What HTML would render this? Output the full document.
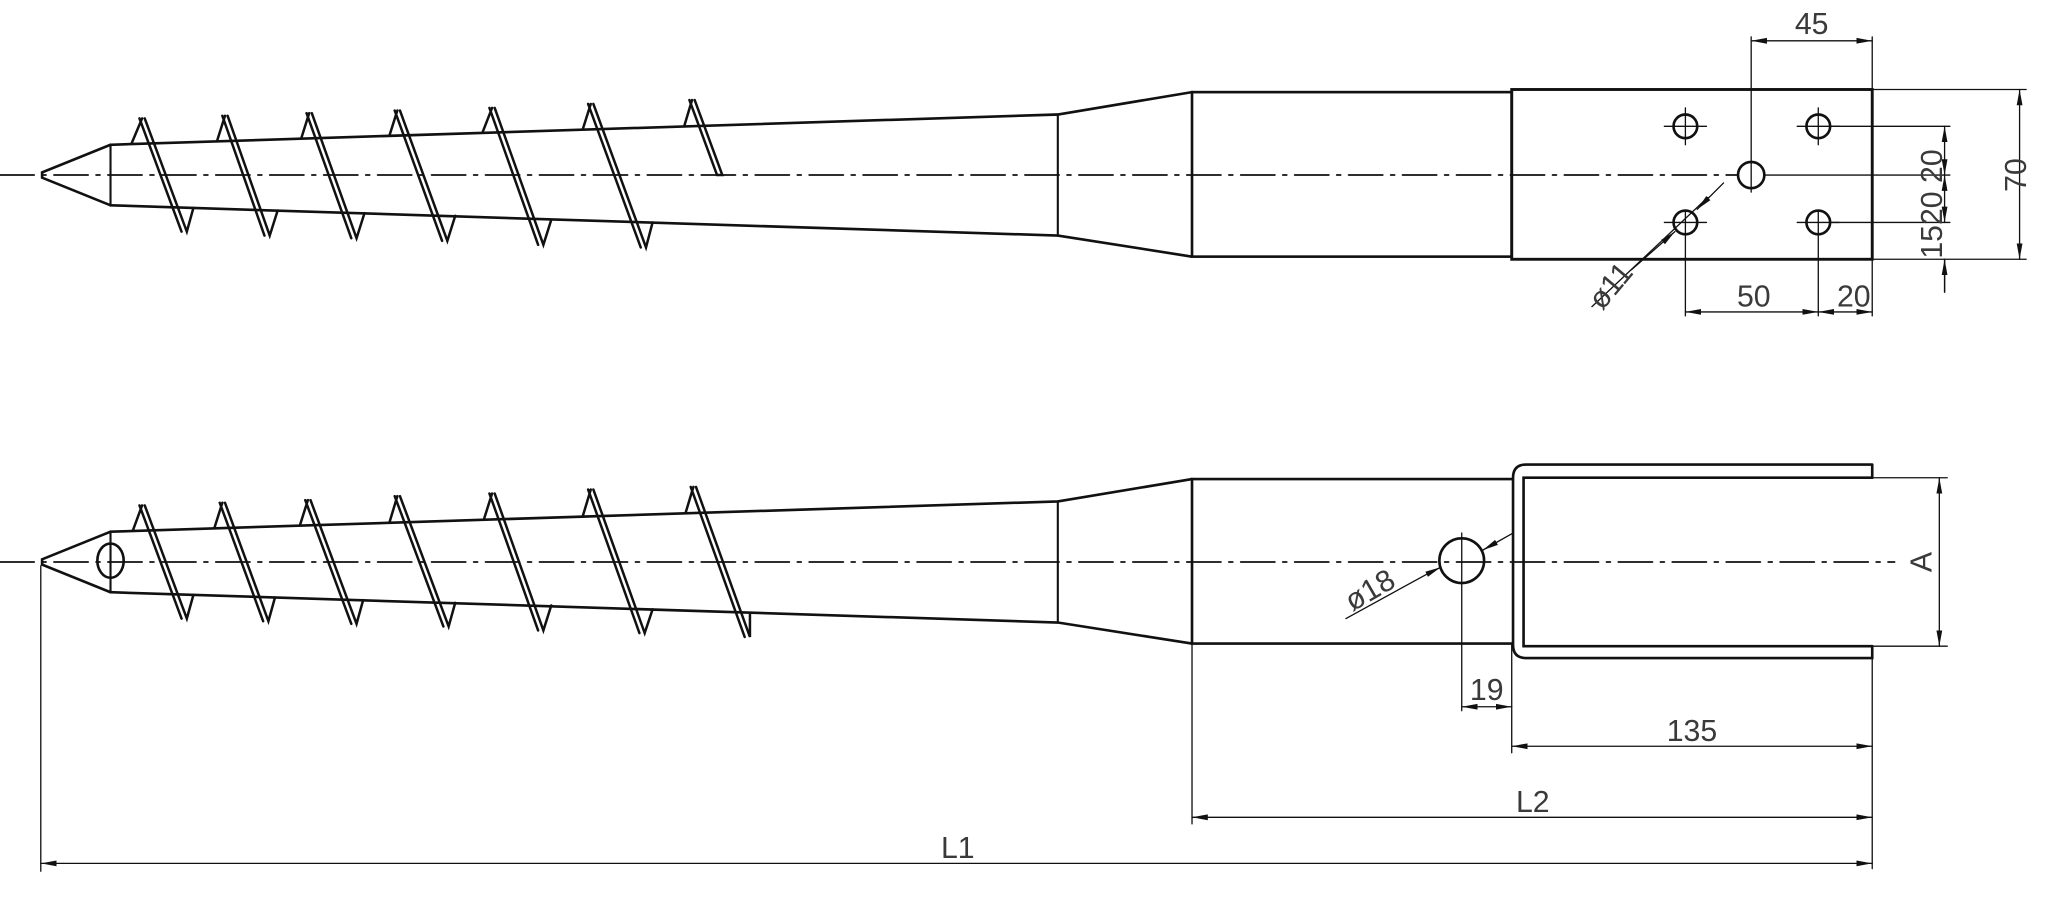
<!DOCTYPE html>
<html><head><meta charset="utf-8"><style>
html,body{margin:0;padding:0;background:#fff;}
svg{display:block;}
text{font-family:"Liberation Sans",sans-serif;fill:#3a3a3a;font-size:23px;}
</style></head><body>
<svg width="2063" height="916" viewBox="0 0 1568 696" preserveAspectRatio="none" xmlns="http://www.w3.org/2000/svg">
<defs>
<marker id="ar" markerWidth="12" markerHeight="6" refX="12" refY="3" orient="auto-start-reverse" markerUnits="userSpaceOnUse">
<path d="M0,0.8 L12,3 L0,5.2 z" fill="#111"/></marker>
</defs>
<g fill="none" stroke="#111" stroke-linecap="round">
<!-- centerlines -->
<line x1="0" y1="133" x2="1320" y2="133" stroke-width="1.3" stroke-dasharray="26 6 3 6"/>
<line x1="0" y1="427" x2="1440" y2="427" stroke-width="1.3" stroke-dasharray="26 6 3 6"/>

<!-- ROW 1 -->
<g stroke-width="2">
<polyline points="84,110 32,131 32,135 84,156"/>
<line x1="84" y1="110" x2="84" y2="156" stroke-width="1.6"/>
<polyline points="84,110 804,87 906,70"/>
<polyline points="84,156 804,179 906,195"/>
<line x1="804" y1="87" x2="804" y2="179" stroke-width="1.6"/>
<rect x="906" y="70" width="243" height="125"/>
<rect x="1149" y="68" width="274" height="129" stroke-width="2.2"/>
</g>
<g stroke-width="1.9">
<path d="M100,109 L108,90 M106,90 L138,176 M110,90 L142,176 L147,158"/>
<path d="M165,107 L171,88 M169,88 L201,179 M173,88 L205,179 L211,160"/>
<path d="M229,105 L235,86 M233,86 L267,181 M237,86 L271,181 L277,162"/>
<path d="M296,103 L302,84 M300,84 L336,183 M304,84 L340,183 L346,164"/>
<path d="M367,100 L374,82 M372,82 L409,186 M376,82 L413,186 L419,167"/>
<path d="M443,98 L449,79 M447,79 L487,188 M451,79 L491,188 L496,169"/>
<path d="M520,96 L526,76 M524,76 L545,133 M528,76 L549,133 L545,133"/>
</g>
<g stroke-width="2">
<circle cx="1281" cy="96" r="9"/><circle cx="1382" cy="96" r="9"/>
<circle cx="1281" cy="169" r="9"/><circle cx="1382" cy="169" r="9"/>
<circle cx="1331" cy="133" r="10"/>
</g>
<g stroke-width="1">
<path d="M1265,96 H1297 M1281,82 V110 M1366,96 H1398 M1382,82 V110"/>
<path d="M1265,169 H1297 M1366,169 H1398"/>
<path d="M1331,28 V146 M1423,28 V68 M1341,133 H1482"/>
<path d="M1391,96 H1482 M1391,169 H1482 M1423,68 H1540 M1423,197 H1540"/>
<path d="M1281,160 V240 M1382,160 V240 M1423,197 V240"/>
<path d="M1478,197 V222"/>
<line x1="1210" y1="233" x2="1298" y2="150"/>
</g>
<g stroke-width="1">
<line x1="1331" y1="31" x2="1423" y2="31" marker-start="url(#ar)" marker-end="url(#ar)"/>
<line x1="1535" y1="68" x2="1535" y2="197" marker-start="url(#ar)" marker-end="url(#ar)"/>
<line x1="1478" y1="96" x2="1478" y2="133" marker-start="url(#ar)" marker-end="url(#ar)"/>
<line x1="1478" y1="133" x2="1478" y2="169" marker-start="url(#ar)" marker-end="url(#ar)"/>
<line x1="1478" y1="222" x2="1478" y2="197" marker-end="url(#ar)"/>
<line x1="1281" y1="237" x2="1382" y2="237" marker-start="url(#ar)" marker-end="url(#ar)"/>
<line x1="1382" y1="237" x2="1423" y2="237" marker-start="url(#ar)" marker-end="url(#ar)"/>
<line x1="1310" y1="139" x2="1290" y2="159" marker-end="url(#ar)"/>
<line x1="1240" y1="205" x2="1273" y2="176" marker-end="url(#ar)"/>
</g>

<!-- ROW 2 -->
<g stroke-width="2">
<polyline points="84,404 32,425 32,429 84,450"/>
<line x1="84" y1="404" x2="84" y2="450" stroke-width="1.6"/>
<ellipse cx="84" cy="426" rx="10" ry="13"/>
<polyline points="84,404 804,381 906,364"/>
<polyline points="84,450 804,473 906,489"/>
<line x1="804" y1="381" x2="804" y2="473" stroke-width="1.6"/>
<path d="M1149,364 H906 V489 H1149"/>
<path d="M1423,353 H1160 Q1150,353 1150,363 V490 Q1150,500 1160,500 H1423 V491 M1423,353 V363"/>
<path d="M1423,363 H1158 V491 H1423"/>
<circle cx="1111" cy="426" r="17"/>
</g>
<g stroke-width="1.9">
<path d="M101,403 L108,384 M106,384 L138,470 M110,384 L142,470 L147,452"/>
<path d="M163,401 L169,382 M167,382 L200,472 M171,382 L204,472 L209,454"/>
<path d="M228,399 L234,380 M232,380 L267,474 M236,380 L271,474 L276,456"/>
<path d="M296,397 L302,377 M300,377 L337,476 M304,377 L341,476 L346,458"/>
<path d="M368,394 L374,375 M372,375 L409,479 M376,375 L413,479 L419,460"/>
<path d="M443,392 L449,372 M447,372 L486,481 M451,372 L490,481 L496,463"/>
<path d="M521,390 L527,370 M525,370 L566,484 M529,370 L570,484 L570,467"/>
</g>
<g stroke-width="1">
<path d="M1111,405 V540 M1149,489 V540 M1149,497 V572 M1423,497 V660 M906,489 V626 M31,430 V662"/>
<path d="M1423,363 H1480 M1423,491 H1480"/>
<line x1="1023" y1="470" x2="1085" y2="436"/>
</g>
<g stroke-width="1">
<line x1="1474" y1="363" x2="1474" y2="491" marker-start="url(#ar)" marker-end="url(#ar)"/>
<line x1="1111" y1="537" x2="1149" y2="537" marker-start="url(#ar)" marker-end="url(#ar)"/>
<line x1="1149" y1="567" x2="1423" y2="567" marker-start="url(#ar)" marker-end="url(#ar)"/>
<line x1="906" y1="621" x2="1423" y2="621" marker-start="url(#ar)" marker-end="url(#ar)"/>
<line x1="31" y1="656" x2="1423" y2="656" marker-start="url(#ar)" marker-end="url(#ar)"/>
<line x1="1085" y1="436" x2="1095" y2="431" marker-end="url(#ar)"/>
<line x1="1150" y1="405" x2="1127" y2="418" marker-end="url(#ar)"/>
</g>
</g>

<text x="1377" y="26" text-anchor="middle">45</text>
<text x="1333" y="233" text-anchor="middle">50</text>
<text x="1409" y="233" text-anchor="middle">20</text>
<text transform="translate(1540,133) rotate(-90)" text-anchor="middle">70</text>
<text transform="translate(1476,155) rotate(-90)" text-anchor="middle">1520 20</text>
<text transform="translate(1230,222) rotate(-50)" text-anchor="middle">ø11</text>
<text transform="translate(1045,455) rotate(-30)" text-anchor="middle">ø18</text>
<text transform="translate(1468,427) rotate(-90)" text-anchor="middle">A</text>
<text x="1130" y="532" text-anchor="middle">19</text>
<text x="1286" y="563" text-anchor="middle">135</text>
<text x="1165" y="617" text-anchor="middle">L2</text>
<text x="728" y="652" text-anchor="middle">L1</text>
</svg>
</body></html>
